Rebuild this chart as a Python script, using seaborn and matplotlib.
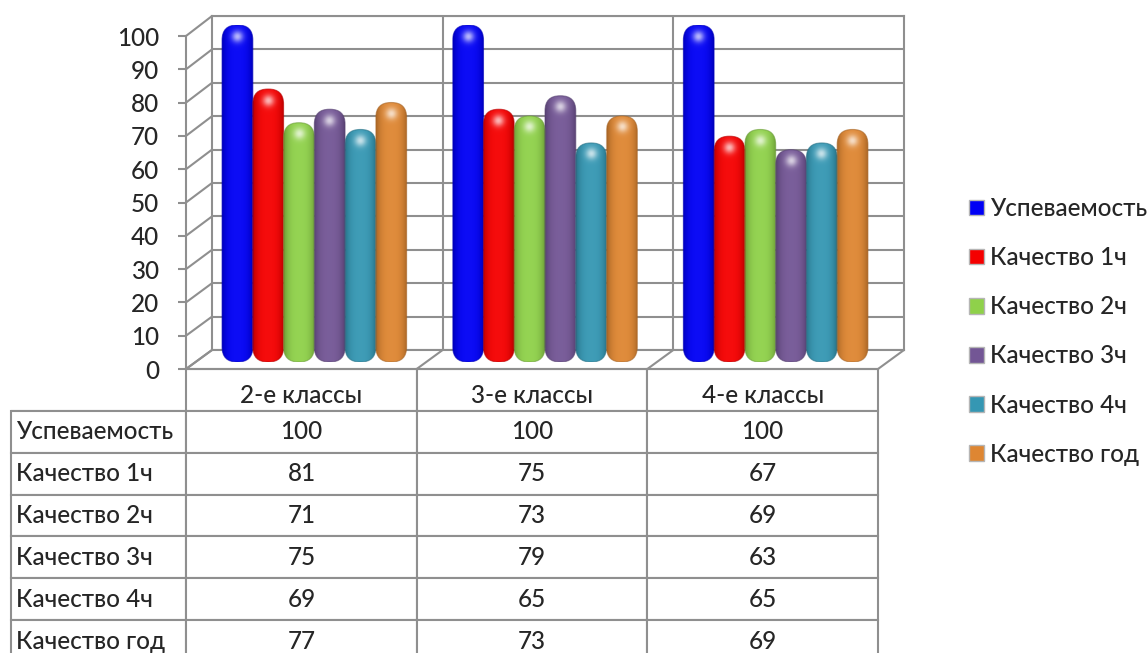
import numpy as np
import pandas as pd
import seaborn as sns
import matplotlib.pyplot as plt
from matplotlib.patches import FancyBboxPatch, ConnectionPatch
from matplotlib.colors import to_rgb

classes = ["2-е классы", "3-е классы", "4-е классы"]
series = ["Успеваемость", "Качество 1ч", "Качество 2ч", "Качество 3ч", "Качество 4ч", "Качество год"]
uspev = [100, 100, 100]
kach1 = [81, 75, 67]
kach2 = [71, 73, 69]
kach3 = [75, 79, 63]
kach4 = [69, 65, 65]
kachgod = [77, 73, 69]
colors = ["#0000f5", "#f50000", "#8fd14a", "#735695", "#3597b3", "#de8632"]
ticks = list(range(0, 101, 10))

W, H = 1147, 653
GRAY = "#8f8f8f"
LW = 1.5
FS = 17.5

sns.set_style("white")
plt.rcParams["font.family"] = ["Lato", "DejaVu Sans"]
plt.rcParams["font.weight"] = 500

rows = [uspev, kach1, kach2, kach3, kach4, kachgod]
df = pd.DataFrame(rows, index=series, columns=classes).reset_index(names="series")
df = df.melt(id_vars="series", var_name="klass", value_name="value")

fig = plt.figure(figsize=(W / 100, H / 100), dpi=100)


def box(x0, y0, x1, y1):
    return fig.add_axes([x0 / W, 1 - y1 / H, (x1 - x0) / W, (y1 - y0) / H])


# back wall
back = box(212, 16, 904, 350)
back.set_xlim(0, 3)
back.set_ylim(0, 100)
back.set_xticks([1, 2])
back.set_yticks(ticks)
back.grid(True, color=GRAY, lw=LW)
back.tick_params(length=0, labelleft=False, labelbottom=False)
for s in back.spines.values():
    s.set_color(GRAY)
    s.set_linewidth(LW)

# front plane with the value axis and the class names
front = box(186, 36, 878, 369)
front.set_zorder(2)
front.set_xlim(0, 3)
front.set_ylim(0, 100)
front.patch.set_visible(False)
front.set_yticks(ticks)
front.set_xticks([0.5, 1.5, 2.5], classes)
front.tick_params(axis="y", length=6, width=LW, color=GRAY, pad=13.5, labelsize=FS, left=True)
front.tick_params(axis="x", length=0, pad=11, labelsize=FS)
sns.despine(ax=front, top=True, right=True)
for s in ["left", "bottom"]:
    front.spines[s].set_color(GRAY)
    front.spines[s].set_linewidth(LW)
for t in ticks:
    fig.add_artist(ConnectionPatch((0, t), (0, t), front.transData, back.transData, color=GRAY, lw=LW))
for k in range(4):
    fig.add_artist(ConnectionPatch((k, 0), (k, 0), front.transData, back.transData, color=GRAY, lw=LW))

# bars
ax = box(199, 25, 891, 362)
ax.set_zorder(3)
sns.barplot(data=df, x="klass", y="value", hue="series", hue_order=series, order=classes,
            palette=colors, width=0.8, gap=0, saturation=1, errorbar=None, ax=ax)
ax.set_xlim(-0.5, 2.5)
ax.set_ylim(0, 100)
handles, labels = ax.get_legend_handles_labels()
leg = ax.legend(handles, labels, loc="upper left", bbox_to_anchor=(969 / W, 1 - 197 / H),
                bbox_transform=fig.transFigure, frameon=False, fontsize=FS, handlelength=0.62,
                handleheight=0.62, handletextpad=0.25, labelspacing=1.075, borderpad=0, borderaxespad=0)
for h in leg.legend_handles:
    h.set_edgecolor("#b5b5b5")
    h.set_linewidth(1)

px_x = 692 / 3
px_y = 337 / 100
for cont, col in zip(ax.containers, colors):
    base = np.array(to_rgb(col))
    for p in cont.patches:
        x, w, h = p.get_x(), p.get_width(), p.get_height()
        p.set_visible(False)
        nw, nh = int(w * px_x), int(h * px_y)
        xx, yy = np.meshgrid(np.linspace(-1, 1, nw), np.arange(nh))
        shade = 1 - 0.22 * np.abs(xx) ** 3
        img = base[None, None, :] * shade[:, :, None]
        light = 0.05 * (1 - xx ** 2)
        img = img + (1 - img) * light[:, :, None]
        # glossy spot near the top
        spot = 0.7 * np.exp(-(((xx * nw / 2) ** 2 + (yy - 11) ** 2) / (2 * 4.0 ** 2)))
        img = img + (1 - img) * spot[:, :, None]
        im = ax.imshow(img, extent=(x, x + w, 0, h), aspect="auto", zorder=3, interpolation="bilinear")
        round_box = FancyBboxPatch((x, 0), w, h, boxstyle="round,pad=0,rounding_size=%f" % (15 / px_x),
                                   mutation_aspect=px_x / px_y, fc="none", ec=base * 0.75, lw=0.8,
                                   alpha=0.6, zorder=4)
        ax.add_patch(round_box)
        im.set_clip_path(round_box)
ax.set_xlim(-0.5, 2.5)
ax.set_ylim(0, 100)
ax.axis("off")
ax.patch.set_visible(False)

# data table below the plot
tab = box(11, 369, 878, 662)
tab.axis("off")
cell_text = [[""] * 4] + [[s] + [str(v) for v in r] for s, r in zip(series, rows)]
table = tab.table(cellText=cell_text, bbox=[0, 0, 1, 1], colWidths=[175, 231, 230, 231], cellLoc="center")
table.auto_set_font_size(False)
table.set_fontsize(FS)
for (r, c), cell in table.get_celld().items():
    cell.set_edgecolor(GRAY)
    cell.set_linewidth(LW)
    if c == 0:
        cell.PAD = 0.03
        cell.set_text_props(ha="left")
    if r == 0 and c == 0:
        cell.visible_edges = "B"

fig.savefig("out.png", dpi=100)
